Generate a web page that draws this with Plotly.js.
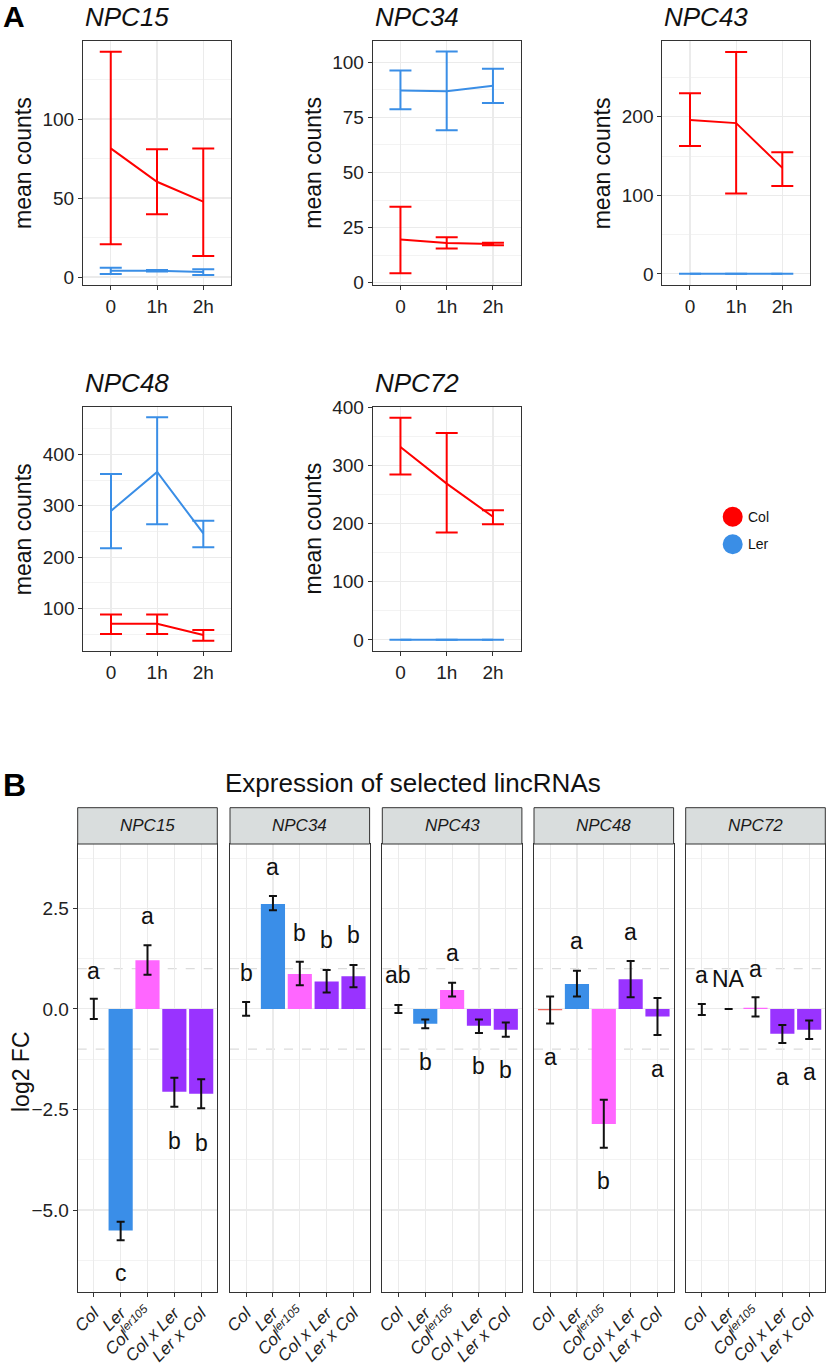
<!DOCTYPE html>
<html><head><meta charset="utf-8">
<script src="https://cdn.plot.ly/plotly-3.0.1.min.js"></script>
<style>html,body{margin:0;padding:0;background:#fff}</style>
</head><body><div id="chart" style="width:826px;height:1366px"></div>
<script>
// ---------- Panel A data (mean counts, by gene: NPC15, NPC34, NPC43, NPC48, NPC72) ----------
const timepoints = ['0', '1h', '2h'];
const genes = ['NPC15', 'NPC34', 'NPC43', 'NPC48', 'NPC72'];
const colMean = [[81.4, 60.3, 47.7], [19.6, 18.0, 17.6], [196, 192, 135], [70, 70, 48], [332, 269, 212]];
const colLow  = [[20.7, 39.7, 13.3], [4.3, 15.5, 17.0], [163, 102.5, 111.8], [50, 50, 37], [284.7, 185, 199]];
const colHigh = [[142.6, 80.8, 81.4], [34.5, 20.7, 18.2], [230, 282.7, 154.8], [88, 88, 58], [382.6, 356, 223]];
const lerMean = [[4.0, 4.0, 3.2], [87.2, 86.8, 89.3], [0, 0, 0], [290, 366, 246], [0, 0, 0]];
const lerLow  = [[1.9, 3.5, 1.3], [78.7, 69.2, 81.5], [0, 0, 0], [217, 264, 219], [0, 0, 0]];
const lerHigh = [[5.9, 4.5, 4.9], [96.2, 104.8, 97.0], [0, 0, 0], [362, 472.5, 271], [0, 0, 0]];

// ---------- Panel B data (log2 FC) ----------
const genotypes = ['Col', 'Ler', 'Col<sup>ler105</sup>', 'Col x Ler', 'Ler x Col'];
const fcValue = [
  [0, -5.51, 1.21, -2.06, -2.11],
  [0, 2.61, 0.87, 0.68, 0.81],
  [0, -0.37, 0.47, -0.42, -0.52],
  [-0.03, 0.62, -2.86, 0.74, -0.19],
  [0, 0, 0.03, -0.62, -0.52]
];
const fcHigh = [
  [0.25, -5.29, 1.58, -1.71, -1.75],
  [0.17, 2.81, 1.17, 0.97, 1.09],
  [0.10, -0.26, 0.65, -0.26, -0.34],
  [0.31, 0.95, -2.26, 1.19, 0.27],
  [0.12, 0, 0.29, -0.40, -0.29]
];
const fcLow = [
  [-0.25, -5.75, 0.85, -2.43, -2.47],
  [-0.17, 2.45, 0.59, 0.41, 0.54],
  [-0.10, -0.48, 0.31, -0.60, -0.69],
  [-0.36, 0.31, -3.45, 0.29, -0.65],
  [-0.15, 0, -0.19, -0.85, -0.75]
];
const sigLetters = [
  ['a', 'c', 'a', 'b', 'b'],
  ['b', 'a', 'b', 'b', 'b'],
  ['ab', 'b', 'a', 'b', 'b'],
  ['a', 'a', 'b', 'a', 'a'],
  ['a', 'NA', 'a', 'a', 'a']
];
const letterY = [
  [0.95, -6.57, 2.31, -3.28, -3.33],
  [0.90, 3.54, 1.88, 1.72, 1.84],
  [0.85, -1.31, 1.39, -1.42, -1.52],
  [-1.19, 1.70, -4.28, 1.92, -1.49],
  [0.85, 0.75, 0.99, -1.68, -1.58]
];

// ---------- layout helpers ----------
const W = 826, H = 1366;
const fx = p => p / W, fy = p => 1 - p / H;
const FONT = 'Liberation Sans, Arial, Helvetica, sans-serif';
const COL_RED = '#FF0000', LER_BLUE = '#3A8EE6';
const barColors = ['#F0645A', '#3A8EE8', '#FF66FF', '#9933FF', '#9933FF'];

const layout = {
  width: W, height: H, margin: {l: 0, r: 0, t: 0, b: 0}, showlegend: false,
  paper_bgcolor: '#fff', plot_bgcolor: '#fff', font: {family: FONT, color: '#222'},
  annotations: [], shapes: []
};
const data = [];
const axisBase = {
  showline: true, mirror: true, linecolor: '#333', linewidth: 1,
  ticks: 'outside', ticklen: 4, tickwidth: 1, tickcolor: '#333',
  showgrid: true, gridcolor: '#EBEBEB', gridwidth: 1.1, zeroline: false,
  automargin: false, fixedrange: true
};
const sfx = n => (n === 1 ? '' : String(n));

// Panel A geometry (px): left, right, top, bottom
const aBoxes = [[83, 231, 41, 285], [372.7, 520.7, 41, 285], [662.3, 810, 41, 285], [83.3, 231, 406.7, 651], [372.7, 520.7, 406.7, 651]];
const aRanges = [[-5.06, 149.4], [-1.0, 109.6], [-14.2, 296.6], [17, 493], [-19.2, 401.5]];
const aTicks = [[0, 50, 100], [0, 25, 50, 75, 100], [0, 100, 200], [100, 200, 300, 400], [0, 100, 200, 300, 400]];
const aMinor = [[25, 75, 125], [12.5, 37.5, 62.5, 87.5], [50, 150, 250], [50, 150, 250, 350, 450], [50, 150, 250, 350]];

genes.forEach((g, i) => {
  const n = i + 1, s = sfx(n);
  const [l, r, t, b] = aBoxes[i];
  layout['xaxis' + s] = Object.assign({}, axisBase, {
    domain: [fx(l), fx(r)], anchor: 'y' + s, type: 'category', categoryarray: timepoints,
    range: [-0.6, 2.6], tickfont: {size: 19, color: '#222'}
  });
  layout['yaxis' + s] = Object.assign({}, axisBase, {
    domain: [fy(b), fy(t)], anchor: 'x' + s, range: aRanges[i], tickvals: aTicks[i],
    tickfont: {size: 19, color: '#222'},
    minor: {tickvals: aMinor[i], showgrid: true, gridcolor: '#F0F0F0', gridwidth: 0.8, ticks: ''}
  });
  [[colMean, colLow, colHigh, COL_RED], [lerMean, lerLow, lerHigh, LER_BLUE]].forEach(([m, lo, hi, c]) => {
    data.push({
      type: 'scatter', mode: 'lines', x: timepoints, y: m[i], xaxis: 'x' + s, yaxis: 'y' + s,
      line: {color: c, width: 2}, hoverinfo: 'skip',
      error_y: {type: 'data', symmetric: false,
        array: hi[i].map((v, k) => v - m[i][k]), arrayminus: lo[i].map((v, k) => m[i][k] - v),
        color: c, thickness: 2, width: 11}
    });
  });
  layout.annotations.push({xref: 'paper', yref: 'paper', x: fx(l), y: fy(i < 3 ? 17 : 383), xanchor: 'left', yanchor: 'middle',
    text: '<i>' + g + '</i>', showarrow: false, font: {size: 26, color: '#111'}});
  layout.annotations.push({xref: 'paper', yref: 'paper', x: fx(l - 60), y: fy((t + b) / 2), xanchor: 'center', yanchor: 'middle',
    text: 'mean counts', textangle: -90, showarrow: false, font: {size: 23, color: '#111'}});
});

// Legend
[['Col', COL_RED, 516.7], ['Ler', LER_BLUE, 544.3]].forEach(([name, c, cy]) => {
  layout.shapes.push({type: 'circle', xref: 'paper', yref: 'paper', x0: fx(722.7), x1: fx(742.7), y0: fy(cy + 10), y1: fy(cy - 10),
    fillcolor: c, line: {width: 0}});
  layout.annotations.push({xref: 'paper', yref: 'paper', x: fx(745.5), y: fy(cy), xanchor: 'left', yanchor: 'middle',
    text: name, showarrow: false, font: {size: 14, color: '#111'}});
});

// Panel labels
layout.annotations.push({xref: 'paper', yref: 'paper', x: fx(1), y: fy(16), xanchor: 'left', yanchor: 'middle',
  text: '<b>A</b>', showarrow: false, font: {size: 30, color: '#000'}});
layout.annotations.push({xref: 'paper', yref: 'paper', x: fx(1), y: fy(785), xanchor: 'left', yanchor: 'middle',
  text: '<b>B</b>', showarrow: false, font: {size: 32, color: '#000'}});

// ---------- Panel B ----------
const bLefts = [77.7, 230, 382.3, 534, 685.7];
const bWidth = 139.6, bTop = 844, bBottom = 1291.7, stripTop = 807.7;
const bRange = [-7.03, 4.10];
layout.annotations.push({xref: 'paper', yref: 'paper', x: fx(413), y: fy(783), xanchor: 'center', yanchor: 'middle',
  text: 'Expression of selected lincRNAs', showarrow: false, font: {size: 26, color: '#111'}});
layout.annotations.push({xref: 'paper', yref: 'paper', x: fx(21), y: fy(1072), xanchor: 'center', yanchor: 'middle',
  text: 'log2 FC', textangle: -90, showarrow: false, font: {size: 23, color: '#111'}});

genes.forEach((g, i) => {
  const n = i + 6, s = sfx(n);
  const l = bLefts[i], r = l + bWidth;
  layout['xaxis' + s] = Object.assign({}, axisBase, {
    domain: [fx(l), fx(r)], anchor: 'y' + s, type: 'category', categoryarray: genotypes,
    range: [-0.6, 4.6], tickangle: -45, tickfont: {size: 17, color: '#222', style: 'italic'}
  });
  layout['yaxis' + s] = Object.assign({}, axisBase, {
    domain: [fy(bBottom), fy(bTop)], anchor: 'x' + s, range: bRange,
    tickvals: [-5, -2.5, 0, 2.5], ticktext: ['\u22125.0', '\u22122.5', '0.0', '2.5'],
    showticklabels: i === 0, ticks: i === 0 ? 'outside' : '',
    tickfont: {size: 19, color: '#222'},
    minor: {tickvals: [-6.25, -3.75, -1.25, 1.25, 3.75], showgrid: true, gridcolor: '#F0F0F0', gridwidth: 0.8, ticks: ''}
  });
  const v = fcValue[i];
  data.push({
    type: 'bar', x: genotypes, y: v, xaxis: 'x' + s, yaxis: 'y' + s, width: 0.9,
    marker: {color: barColors, line: {width: 0}}, hoverinfo: 'skip',
    error_y: {type: 'data', symmetric: false,
      array: fcHigh[i].map((h, k) => h - v[k]), arrayminus: fcLow[i].map((lo, k) => v[k] - lo),
      color: '#111', thickness: 2, width: 4}
  });
  [1, -1].forEach(yv => layout.shapes.push({type: 'line', xref: 'x' + s, yref: 'y' + s, x0: -0.6, x1: 4.6, y0: yv, y1: yv,
    line: {color: '#DCDCDC', width: 1.3, dash: 'dash'}, layer: 'below'}));
  layout.shapes.push({type: 'rect', xref: 'paper', yref: 'paper', x0: fx(l), x1: fx(r), y0: fy(bTop), y1: fy(stripTop),
    fillcolor: '#D9DDDD', line: {color: '#333', width: 1}, layer: 'above'});
  layout.annotations.push({xref: 'paper', yref: 'paper', x: fx((l + r) / 2), y: fy((bTop + stripTop) / 2), xanchor: 'center', yanchor: 'middle',
    text: '<i>' + g + '</i>', showarrow: false, font: {size: 17, color: '#1A1A1A'}});
  sigLetters[i].forEach((t, k) => layout.annotations.push({xref: 'x' + s, yref: 'y' + s, x: k, y: letterY[i][k],
    text: t, showarrow: false, xanchor: 'center', yanchor: 'middle', font: {size: 23, color: '#111'}}));
});

Plotly.newPlot('chart', data, layout, {staticPlot: true, displayModeBar: false});
</script>
</body></html>
